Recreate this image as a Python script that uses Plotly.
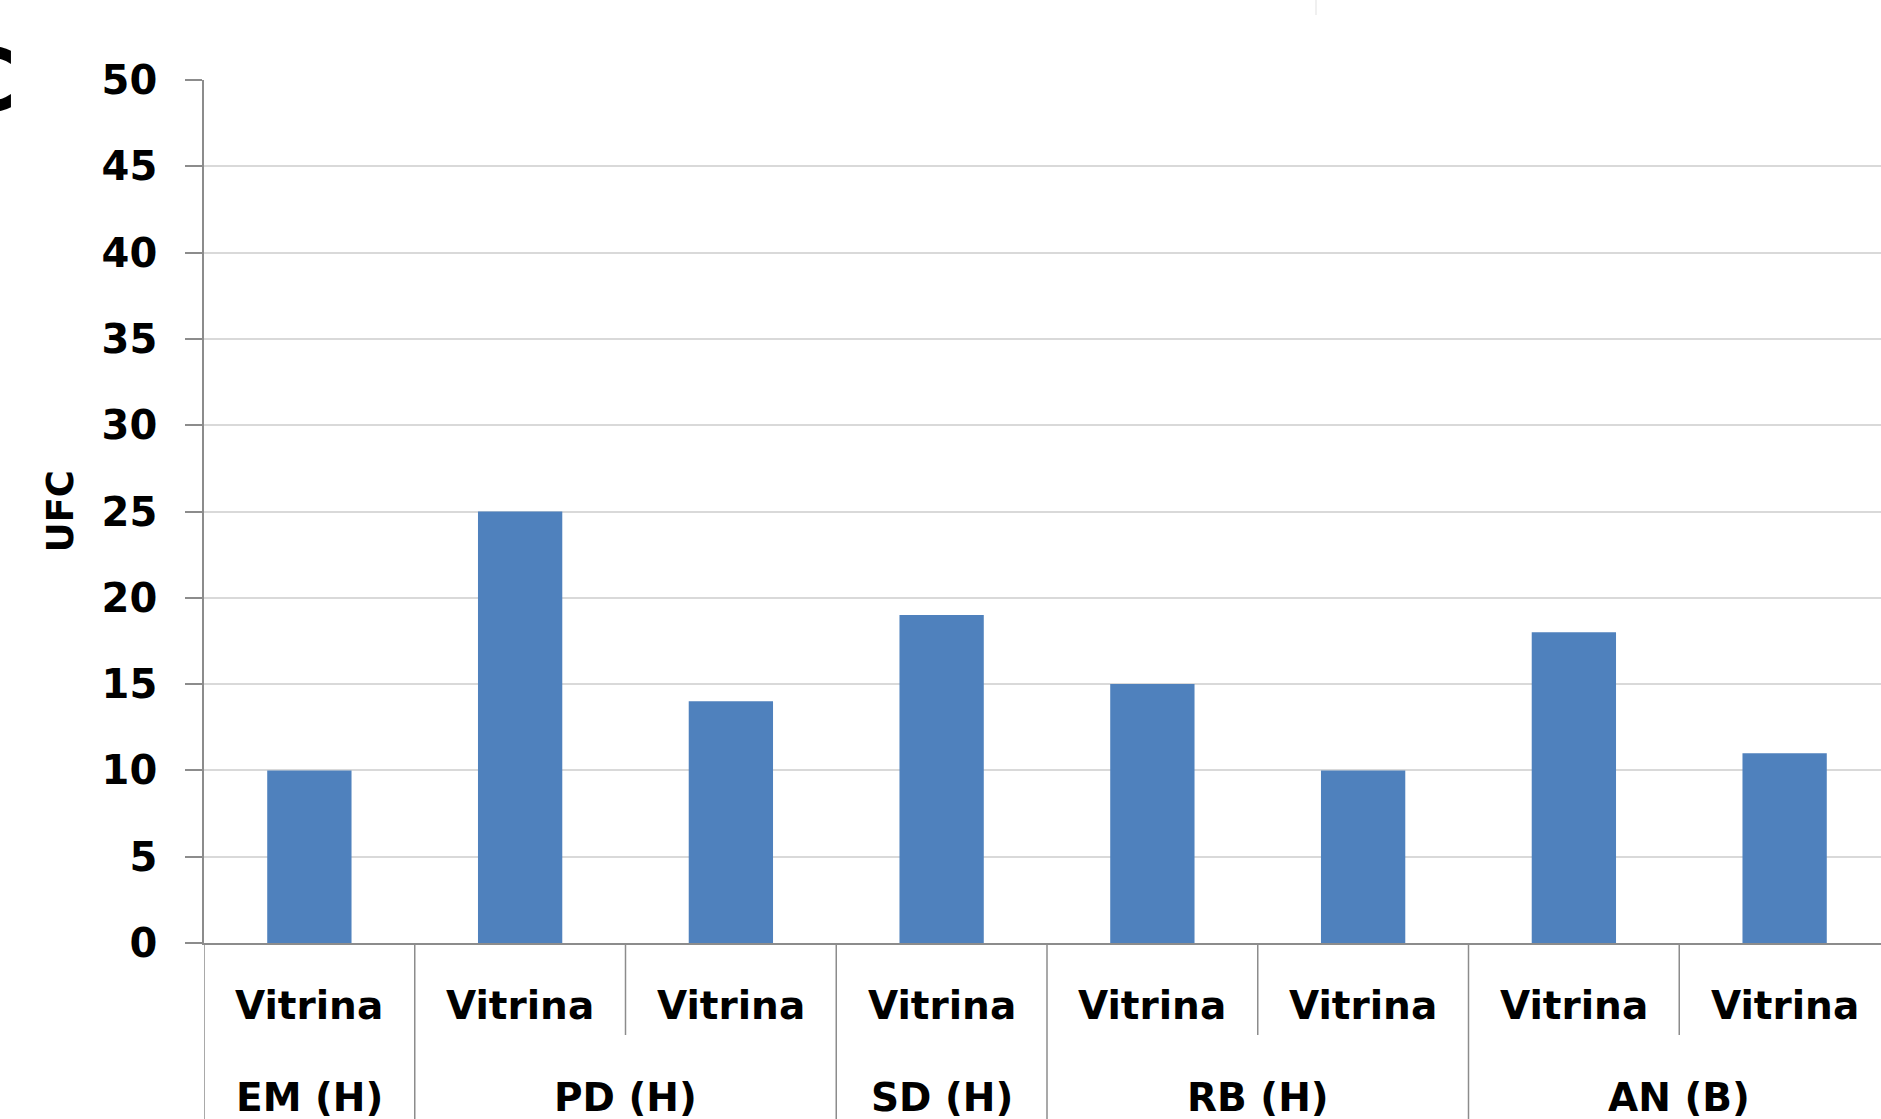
import plotly.graph_objects as go

# Colony counts per sampled display case, grouped by site
groups = ["EM (H)", "PD (H)", "SD (H)", "RB (H)", "AN (B)"]
group_sizes = [1, 2, 1, 2, 2]
samples = ["Vitrina", "Vitrina", "Vitrina", "Vitrina", "Vitrina", "Vitrina", "Vitrina", "Vitrina"]
ufc = [10, 25, 14, 19, 15, 10, 18, 11]
y_ticks = [0, 5, 10, 15, 20, 25, 30, 35, 40, 45, 50]

W, H = 1881, 1119
M_L, M_R, M_T, M_B = 204, 0, 80, 176
plot_h = H - M_T - M_B

FONT = "DejaVu Sans"
BAR = "#4f81bd"
AXIS = "#8c8c8c"
GRID = "#d9d9d9"

x_pos = list(range(len(ufc)))

fig = go.Figure(
    go.Bar(
        x=x_pos,
        y=ufc,
        width=0.40,
        marker=dict(color=BAR, line=dict(width=0)),
        hoverinfo="skip",
    )
)


def py(px_below_axis):
    """Paper y for a pixel offset below the zero line."""
    return -px_below_axis / plot_h


shapes = []
annotations = []

# inner (sample) labels and separators between samples of the same group
for i, name in enumerate(samples):
    annotations.append(dict(
        x=i, xref="x", y=py(62), yref="paper", text=name, showarrow=False,
        xanchor="center", yanchor="middle",
        font=dict(family=FONT, size=39, color="#000000"),
    ))

start = 0
for g, n in zip(groups, group_sizes):
    center = start + (n - 1) / 2
    annotations.append(dict(
        x=center, xref="x", y=py(154), yref="paper", text=g, showarrow=False,
        xanchor="center", yanchor="middle",
        font=dict(family=FONT, size=39, color="#000000"),
    ))
    # group boundary on the left, spanning both label rows
    shapes.append(dict(type="line", xref="x", yref="paper",
                       x0=start - 0.5, x1=start - 0.5, y0=0, y1=py(200),
                       line=dict(color=AXIS, width=1.5)))
    # short separators inside the group
    for k in range(1, n):
        xs = start + k - 0.5
        shapes.append(dict(type="line", xref="x", yref="paper",
                           x0=xs, x1=xs, y0=0, y1=py(92),
                           line=dict(color=AXIS, width=1.5)))
    start += n

# faint mark along the top edge
shapes.append(dict(type="line", xref="paper", yref="paper",
                   x0=(1316 - M_L) / (W - M_L), x1=(1316 - M_L) / (W - M_L),
                   y0=1 + M_T / plot_h, y1=1 + (M_T - 15) / plot_h,
                   line=dict(color="#f0f0f0", width=2)))

# y-axis title
annotations.append(dict(
    x=(60 - M_L) / (W - M_L), xref="paper", y=0.5, yref="paper",
    text="UFC", textangle=-90, showarrow=False,
    xanchor="center", yanchor="middle",
    font=dict(family=FONT, size=37, color="#000000"),
))

# panel letter
annotations.append(dict(
    x=(19 - M_L) / (W - M_L), xref="paper", y=1.0, yref="paper",
    text="C", showarrow=False,
    xanchor="right", yanchor="middle",
    font=dict(family=FONT, size=88, color="#000000"),
))

fig.update_layout(
    width=W, height=H,
    margin=dict(l=M_L, r=M_R, t=M_T, b=M_B, pad=0),
    paper_bgcolor="white", plot_bgcolor="white",
    showlegend=False,
    bargap=0.6,
    font=dict(family=FONT, color="#000000"),
    shapes=shapes,
    annotations=annotations,
    xaxis=dict(
        range=[-0.5, -0.5 + (W - M_L) / ((1890 - M_L) / len(ufc))],
        showticklabels=False, ticks="", showgrid=False, zeroline=False,
        showline=True, linecolor=AXIS, linewidth=1.5,
        fixedrange=True,
    ),
    yaxis=dict(
        range=[0, 50], tickvals=y_ticks,
        tickfont=dict(family=FONT, size=40, color="#000000", weight="bold"),
        ticks="outside", ticklen=17, tickcolor=AXIS, tickwidth=1.5,
        ticklabelstandoff=20,
        showgrid=True, gridcolor=GRID, gridwidth=1.5,
        zeroline=False,
        showline=True, linecolor=AXIS, linewidth=1.5,
        fixedrange=True,
    ),
)

# bold weight for all annotation text
for a in fig.layout.annotations:
    a.font.weight = "bold"

fig.write_html("out.html", config={"displayModeBar": False})
